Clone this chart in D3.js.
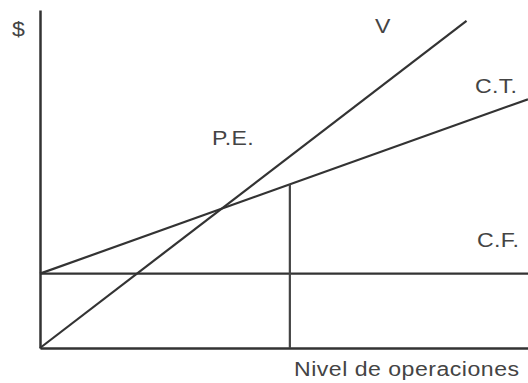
<!DOCTYPE html>
<html lang="es">
<head>
<meta charset="utf-8">
<title>Punto de equilibrio</title>
<script src="https://cdn.jsdelivr.net/npm/d3@7"></script>
<style>
  body { margin: 0; background: #fff; }
  svg text { font-family: "Liberation Sans", Arial, sans-serif; font-size: 21px; fill: #444; }
</style>
</head>
<body>
<svg id="chart" width="528" height="383"></svg>
<script>
// values (abstract units, 0..100 on both axes)
var ventas = [[0, 0], [87.4, 96.8]];
var costoTotal = [[0, 22], [100, 73.6]];
var costoFijo = [[0, 22], [100, 22]];
var nivelActual = [[51.2, 0], [51.2, 48.4]];
var etiquetas = ["$", "V", "C.T.", "P.E.", "C.F.", "Nivel de operaciones"];

var svg = d3.select("#chart");

var x = d3.scaleLinear().domain([0, 100]).range([40, 528]);
var y = d3.scaleLinear().domain([0, 100]).range([348, 10]);

var line = d3.line()
  .x(function(d) { return x(d[0]); })
  .y(function(d) { return y(d[1]); });

// axes, no ticks
svg.append("g")
  .attr("transform", "translate(0," + y(0) + ")")
  .call(d3.axisBottom(x).tickValues([]).tickSizeOuter(0))
  .select(".domain").attr("stroke", "#333").attr("stroke-width", 2.5);

svg.append("g")
  .attr("transform", "translate(" + x(0) + ",0)")
  .call(d3.axisLeft(y).tickValues([]).tickSizeOuter(0))
  .select(".domain").attr("stroke", "#333").attr("stroke-width", 2.5);

// lines
[costoFijo, costoTotal, ventas].forEach(function(d) {
  svg.append("path")
    .datum(d)
    .attr("d", line)
    .attr("fill", "none")
    .attr("stroke", "#333")
    .attr("stroke-width", 2.2);
});

svg.append("path")
  .datum(nivelActual)
  .attr("d", line)
  .attr("fill", "none")
  .attr("stroke", "#444")
  .attr("stroke-width", 2.2);

// labels
var pos = [[12, 36], [375, 33], [475, 93], [212, 145], [477, 247], [294, 376]];

svg.selectAll("text.lbl")
  .data(etiquetas)
  .enter().append("text")
  .attr("class", "lbl")
  .attr("transform", function(d, i) {
    return "translate(" + pos[i][0] + "," + pos[i][1] + ") scale(1.1,1)";
  })
  .style("letter-spacing", function(d) { return d.length > 5 ? "0.45px" : "0.3px"; })
  .text(function(d) { return d; });
</script>
</body>
</html>
